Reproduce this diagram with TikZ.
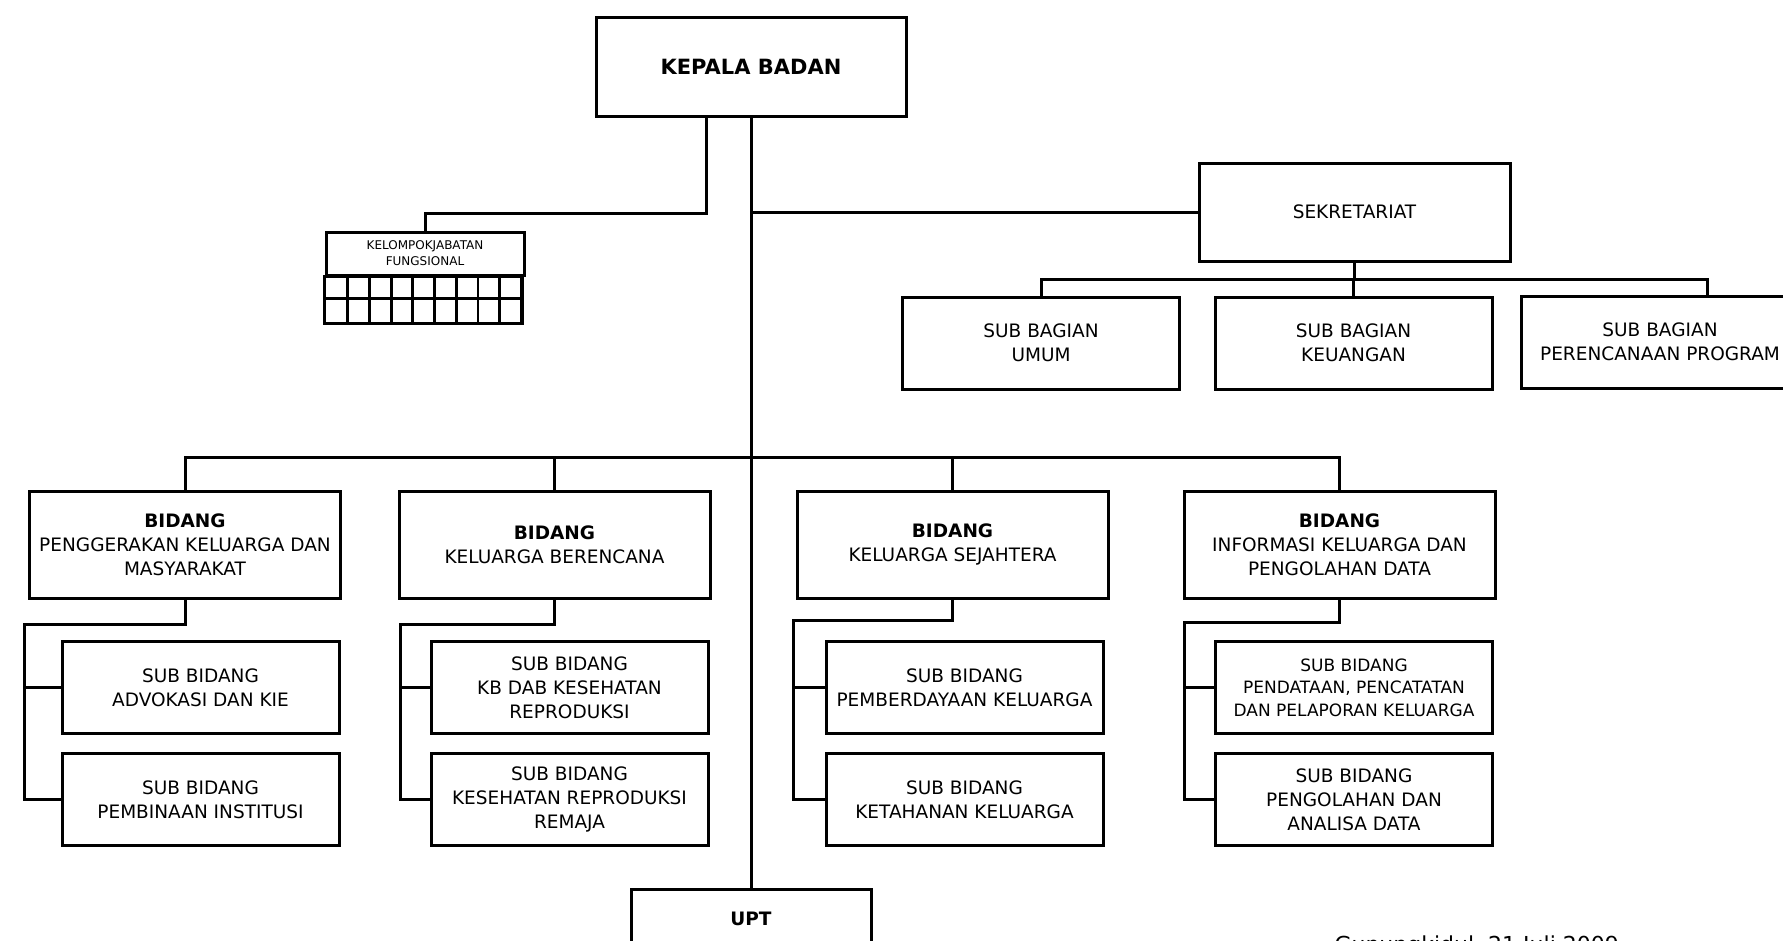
\documentclass[tikz,border=0pt]{standalone}
\usepackage{fontspec}
\setmainfont{DejaVu Sans}
\begin{document}
\begin{tikzpicture}[x=1pt,y=-1pt]
\tikzstyle{every node}=[font=\fontsize{18.5}{24}\selectfont]
\tikzstyle{box}=[draw,line width=3pt,inner sep=0pt,align=center]
\tikzstyle{bidbox}=[box,minimum width=311pt,minimum height=107pt]
\tikzstyle{subbox}=[box,minimum width=277pt,minimum height=92pt]
\tikzstyle{link}=[line width=3pt]

\useasboundingbox (0,0) rectangle (1783,940);

% Kepala badan and sekretariat
\node[box,minimum width=310pt,minimum height=99pt,font=\fontsize{21}{24}\selectfont\bfseries]
  (kepala) at (751,66.5) {KEPALA BADAN};
\node[box,minimum width=311pt,minimum height=98pt] (sekr) at (1354.5,212) {SEKRETARIAT};

% Sub bagian
\node[subbox] (sbumum) at (1041,343) {SUB BAGIAN\\UMUM};
\node[subbox] (sbuang) at (1353.5,343) {SUB BAGIAN\\KEUANGAN};
\node[subbox] (sbprog) at (1660,342) {SUB BAGIAN\\PERENCANAAN PROGRAM};

% Kelompok jabatan fungsional, with its grid
\node[box,minimum width=198pt,minimum height=43pt,font=\fontsize{12}{16}\selectfont]
  (kjf) at (425,253.5) {KELOMPOKJABATAN\\FUNGSIONAL};
\draw[line width=2.8pt] (kjf.south west) rectangle ++(198,47);
\draw[line width=2.8pt] (326,298.5) -- (524,298.5);
\foreach \i in {1,...,9}
  \draw[line width=2.8pt] (326+21.7*\i,275) -- (326+21.7*\i,322);

% Bidang
\node[bidbox] (bid1) at (185,544.5) {\textbf{BIDANG}\\PENGGERAKAN KELUARGA DAN\\MASYARAKAT};
\node[bidbox] (bid2) at (554.5,544.5) {\textbf{BIDANG}\\KELUARGA BERENCANA};
\node[bidbox] (bid3) at (952.5,544.5) {\textbf{BIDANG}\\KELUARGA SEJAHTERA};
\node[bidbox] (bid4) at (1339.5,544.5) {\textbf{BIDANG}\\INFORMASI KELUARGA DAN\\PENGOLAHAN DATA};

% Sub bidang
\node[subbox] (sb11) at (200.5,687.5) {SUB BIDANG\\ADVOKASI DAN KIE};
\node[subbox] (sb12) at (200.5,799.5) {SUB BIDANG\\PEMBINAAN INSTITUSI};
\node[subbox] (sb21) at (569.5,687.5) {SUB BIDANG\\KB DAB KESEHATAN\\REPRODUKSI};
\node[subbox] (sb22) at (569.5,799.5) {SUB BIDANG\\KESEHATAN REPRODUKSI\\REMAJA};
\node[subbox] (sb31) at (964.5,687.5) {SUB BIDANG\\PEMBERDAYAAN KELUARGA};
\node[subbox] (sb32) at (964.5,799.5) {SUB BIDANG\\KETAHANAN KELUARGA};
\node[subbox,font=\fontsize{17}{22.5}\selectfont] (sb41) at (1354,687.5)
  {SUB BIDANG\\PENDATAAN, PENCATATAN\\DAN PELAPORAN KELUARGA};
\node[subbox] (sb42) at (1354,799.5) {SUB BIDANG\\PENGOLAHAN DAN\\ANALISA DATA};

% UPT, cut by the page edge
\node[box,minimum width=240pt,minimum height=100pt,anchor=north] (upt) at (751,888) {};
\node[font=\fontsize{18.5}{24}\selectfont\bfseries,anchor=base] (upttext) at (751,925) {UPT};

\node[anchor=base west,font=\fontsize{22}{24}\selectfont] (tanggal) at (1331,952)
  {Gunungkidul, 21 Juli 2009};

% Lines from kepala badan
\coordinate (kjfbend) at (706,213);
\draw[link] (kjfbend |- kepala.south) -- (kjfbend) -| (kjf.north);
\draw[link] (kepala.south) -- (upt.north);
\draw[link] (kepala.south |- sekr.west) -- (sekr.west);

% Sekretariat to sub bagian
\coordinate (sbbus) at (1707,279);
\draw[link] (sekr.south) -- (sekr.south |- sbbus);
\draw[link] (sbumum.north) |- (sbbus) -- (sbbus |- sbprog.north);
\draw[link] (sbuang.north) -- (sbuang.north |- sbbus);

% Bidang row
\coordinate (bidbus) at (0,457);
\draw[link] (bid1.north) |- (bid4.north |- bidbus) -- (bid4.north);
\draw[link] (bid2.north) -- (bid2.north |- bidbus);
\draw[link] (bid3.north) -- (bid3.north |- bidbus);

% Bidang to sub bidang
\foreach \col/\x/\y in {1/24/624, 2/400/624, 3/793/620, 4/1184/622} {
  \coordinate (elb\col) at (\x,\y);
  \draw[link] (bid\col.south) |- (elb\col) |- (sb\col2.west);
  \draw[link] (elb\col |- sb\col1.west) -- (sb\col1.west);
}

\end{tikzpicture}
\end{document}
